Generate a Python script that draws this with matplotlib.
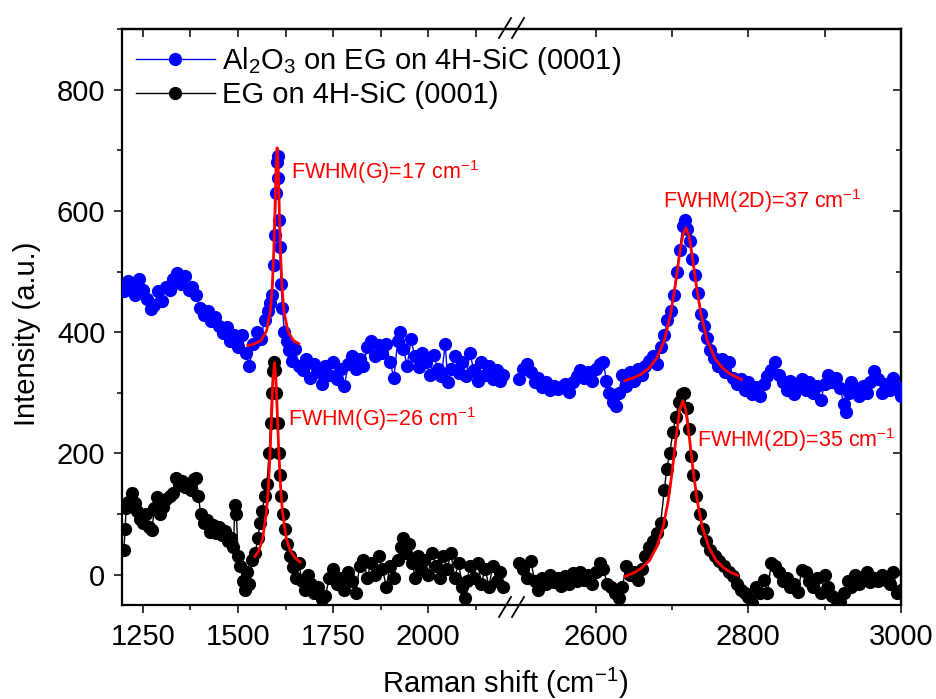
"""
Raman spectra of EG on 4H-SiC with and without Al2O3, broken x axis
"""
import matplotlib
matplotlib.use('Agg')
import matplotlib.pyplot as plt
from matplotlib.ticker import MultipleLocator, FixedLocator
from matplotlib.lines import Line2D

plt.rcParams['font.family'] = ['Liberation Sans', 'DejaVu Sans']
plt.rcParams['mathtext.fontset'] = 'custom'
plt.rcParams['mathtext.rm'] = 'Liberation Sans'
plt.rcParams['mathtext.it'] = 'Liberation Sans:italic'
plt.rcParams['mathtext.default'] = 'regular'

# ---- data: left segment (G band region) ----
wn_blue_l = [1200, 1210, 1220, 1230, 1240, 1250, 1260, 1270, 1280, 1290, 1300, 1310, 1320, 1330,
             1340, 1350, 1360, 1370, 1380, 1390, 1400, 1410, 1420, 1430, 1440, 1450, 1460, 1470,
             1480, 1490, 1500, 1510, 1520, 1530, 1540, 1550, 1560, 1570, 1580, 1585, 1590, 1594,
             1597, 1600, 1602, 1604, 1606, 1608, 1610, 1613, 1617, 1622, 1628, 1635, 1642, 1650,
             1660, 1670, 1680, 1690, 1700, 1710, 1720, 1730, 1740, 1750, 1760, 1770, 1780, 1790,
             1800, 1810, 1820, 1830, 1840, 1850, 1860, 1870, 1880, 1890, 1900, 1910, 1920, 1926,
             1935, 1945, 1955, 1965, 1975, 1985, 1995, 2005, 2015, 2025, 2035, 2045, 2052, 2060,
             2070, 2080, 2090, 2100, 2110, 2120, 2130, 2140, 2150, 2160, 2170, 2180, 2190, 2198]
int_blue_l = [468, 485, 478, 462, 488, 470, 455, 438, 445, 468, 452, 475, 470, 488,
              498, 480, 492, 470, 475, 462, 440, 428, 435, 418, 425, 410, 398, 408,
              385, 395, 375, 395, 365, 345, 380, 400, 388, 420, 435, 448, 462, 510,
              560, 630, 680, 690, 655, 585, 540, 480, 440, 400, 385, 370, 352, 372,
              345, 338, 355, 325, 348, 335, 315, 345, 330, 350, 322, 340, 312, 348,
              360, 340, 355, 345, 375, 385, 360, 378, 365, 380, 350, 325, 385, 400,
              372, 345, 388, 360, 342, 365, 350, 330, 362, 340, 328, 380, 318, 340,
              360, 332, 350, 328, 365, 338, 320, 350, 330, 345, 322, 338, 320, 330]

wn_black_l = [1200, 1203, 1206, 1212, 1220, 1228, 1235, 1242, 1250, 1258, 1266, 1274, 1280, 1288,
              1296, 1304, 1312, 1320, 1328, 1336, 1344, 1352, 1360, 1368, 1376, 1384, 1390, 1396,
              1402, 1410, 1418, 1426, 1434, 1442, 1450, 1458, 1466, 1474, 1482, 1488, 1492, 1496,
              1500, 1506, 1512, 1518, 1524, 1530, 1538, 1545, 1552, 1558, 1564, 1570, 1576, 1582,
              1586, 1589, 1592, 1595, 1598, 1601, 1604, 1607, 1610, 1614, 1618, 1624, 1630, 1638,
              1646, 1652, 1660, 1668, 1676, 1684, 1692, 1700, 1710, 1720, 1730, 1740, 1750, 1760,
              1770, 1780, 1790, 1800, 1810, 1820, 1830, 1840, 1850, 1860, 1870, 1880, 1890, 1900,
              1910, 1920, 1928, 1934, 1942, 1950, 1958, 1966, 1974, 1982, 1990, 2000, 2010, 2020,
              2030, 2040, 2050, 2060, 2070, 2080, 2090, 2096, 2102, 2110, 2120, 2130, 2140, 2150,
              2160, 2170, 2180, 2190, 2197]
int_black_l = [40, 75, 110, 120, 135, 118, 105, 92, 85, 100, 78, 74, 110, 128,
               100, 112, 125, 130, 135, 160, 148, 155, 145, 150, 140, 158, 160, 130,
               100, 85, 90, 70, 82, 68, 78, 65, 72, 55, 60, 45, 115, 100,
               30, 15, -10, -25, 5, -15, 25, 35, 60, 85, 105, 130, 150, 200,
               250, 300, 336, 350, 338, 300, 250, 200, 165, 130, 100, 75, 50, 30,
               12, -5, 20, -10, -25, 0, -15, -30, -20, -40, -35, -5, 10, -15,
               -5, -25, 5, -10, -30, 15, 25, -5, 20, 0, 30, 10, -20, 15,
               -5, 25, 45, 60, 35, 50, 20, -5, 30, 10, 25, 0, 35, 15,
               -5, 30, 10, 35, -5, 20, -20, -38, -10, 15, -5, 20, -15, 10,
               -20, 15, -10, 5, -20]

# ---- data: right segment (2D band region) ----
wn_blue_r = [2500, 2505, 2510, 2515, 2520, 2525, 2530, 2535, 2540, 2545, 2550, 2555, 2560, 2565,
             2570, 2575, 2580, 2585, 2590, 2595, 2600, 2605, 2610, 2614, 2618, 2622, 2626, 2630,
             2635, 2640, 2645, 2650, 2655, 2660, 2665, 2670, 2675, 2680, 2685, 2690, 2694, 2698,
             2702, 2706, 2710, 2714, 2717, 2720, 2723, 2726, 2730, 2734, 2738, 2742, 2746, 2750,
             2755, 2760, 2765, 2770, 2775, 2780, 2785, 2790, 2795, 2800, 2805, 2810, 2815, 2820,
             2825, 2830, 2835, 2840, 2845, 2850, 2855, 2860, 2865, 2870, 2875, 2880, 2885, 2890,
             2895, 2900, 2905, 2910, 2915, 2920, 2925, 2928, 2932, 2935, 2940, 2945, 2950, 2955,
             2960, 2965, 2970, 2975, 2980, 2985, 2990, 2995, 3000]
int_blue_r = [322, 340, 347, 335, 318, 325, 310, 318, 305, 312, 306, 310, 315, 302,
              318, 328, 338, 325, 335, 320, 340, 348, 350, 320, 300, 285, 278, 300,
              330, 312, 335, 320, 340, 330, 345, 352, 360, 348, 375, 395, 420, 435,
              462, 500, 535, 575, 585, 570, 550, 520, 495, 465, 430, 410, 390, 370,
              358, 345, 355, 335, 350, 325, 315, 322, 305, 318, 298, 310, 295, 315,
              328, 338, 350, 330, 318, 305, 320, 298, 310, 322, 305, 318, 300, 312,
              288, 315, 330, 318, 325, 308, 282, 268, 300, 318, 305, 295, 312, 300,
              318, 336, 322, 300, 315, 305, 325, 310, 295]

wn_black_r = [2500, 2505, 2510, 2515, 2520, 2525, 2530, 2535, 2540, 2545, 2550, 2555, 2560, 2565,
              2570, 2575, 2580, 2585, 2590, 2595, 2600, 2605, 2610, 2615, 2620, 2625, 2630, 2635,
              2640, 2645, 2650, 2655, 2660, 2665, 2670, 2675, 2680, 2685, 2690, 2693, 2697, 2701,
              2705, 2709, 2713, 2716, 2719, 2722, 2725, 2728, 2732, 2736, 2740, 2745, 2750, 2756,
              2762, 2768, 2774, 2780, 2785, 2790, 2795, 2800, 2805, 2810, 2815, 2820, 2825, 2830,
              2835, 2840, 2845, 2850, 2855, 2860, 2865, 2870, 2875, 2880, 2885, 2890, 2895, 2900,
              2905, 2910, 2915, 2920, 2925, 2930, 2935, 2940, 2945, 2950, 2955, 2960, 2965, 2970,
              2975, 2980, 2985, 2990, 2995, 3000]
int_black_r = [20, 10, -5, 22, -10, -25, -5, -15, 0, -12, -5, -18, -2, -15,
               2, -10, 5, -8, 0, -15, 5, 20, 10, -15, -20, -30, -38, -20,
               15, 0, 5, -8, 10, 30, 45, 55, 68, 85, 140, 175, 200, 235,
               260, 285, 298, 300, 275, 240, 195, 165, 130, 100, 75, 55, 40, 30,
               22, 15, 5, -2, -15, -25, -30, -36, -47, -20, -30, -8, -30, 20,
               15, 5, -10, -5, -20, -15, -28, 8, 5, -10, -20, -5, -30, 0,
               -20, -35, -40, -45, -30, -10, -20, 0, -15, -5, 5, -12, -5, -10,
               0, -8, -15, 5, -30, -25]

# ---- Lorentzian fit curves ----
fit_g_blue_x = [1526, 1540, 1560, 1575, 1585, 1590, 1594, 1597, 1600, 1603, 1606, 1609, 1612,
                1616, 1621, 1631, 1646, 1660]
fit_g_blue_y = [378, 380, 386, 402, 434, 473, 530, 594, 667, 704, 667, 594, 530,
                473, 434, 402, 386, 381]
fit_g_black_x = [1545, 1555, 1565, 1575, 1580, 1585, 1589, 1592, 1596, 1600, 1603, 1607, 1612,
                 1617, 1627, 1637, 1650, 1663]
fit_g_black_y = [30, 40, 60, 104, 145, 208, 273, 320, 350, 320, 273, 208, 145,
                 104, 60, 40, 28, 21]
fit_2d_blue_x = [2638, 2650, 2660, 2670, 2680, 2690, 2698, 2704, 2710, 2714, 2718, 2722, 2726,
                 2732, 2738, 2746, 2756, 2766, 2776, 2791]
fit_2d_blue_y = [320, 325, 331, 341, 357, 387, 429, 475, 530, 560, 572, 560, 530,
                 475, 429, 387, 357, 341, 331, 322]
fit_2d_black_x = [2638, 2650, 2660, 2670, 2680, 2688, 2695, 2700, 2705, 2710, 2714, 2718, 2723,
                  2728, 2733, 2740, 2748, 2758, 2768, 2778, 2786]
fit_2d_black_y = [-3, 3, 11, 23, 46, 77, 122, 168, 223, 272, 287, 272, 223,
                  168, 122, 77, 46, 23, 11, 3, -1]

labels = ['Al$_2$O$_3$ on EG on 4H-SiC (0001)', 'EG on 4H-SiC (0001)']
fwhm_texts = ['FWHM(G)=17 cm$^{-1}$', 'FWHM(G)=26 cm$^{-1}$',
              'FWHM(2D)=37 cm$^{-1}$', 'FWHM(2D)=35 cm$^{-1}$']

W, H = 937, 699
fig = plt.figure(figsize=(W / 100, H / 100), dpi=100)

x0, x1, xb, y0, y1 = 122, 901, 511, 605, 29
axl = fig.add_axes([x0 / W, 1 - y0 / H, (xb - x0) / W, (y0 - y1) / H])
axr = fig.add_axes([xb / W, 1 - y0 / H, (x1 - xb) / W, (y0 - y1) / H])

mk = dict(marker='o', ms=8.5, lw=1.0, zorder=3)
h_blue, = axl.plot(wn_blue_l, int_blue_l, color='#0000ff', **mk)
h_black, = axl.plot(wn_black_l, int_black_l, color='black', **mk)
axr.plot(wn_blue_r, int_blue_r, color='#0000ff', **mk)
axr.plot(wn_black_r, int_black_r, color='black', **mk)

fit_style = dict(color='#ff0000', lw=2, zorder=4)
axl.plot(fit_g_blue_x, fit_g_blue_y, **fit_style)
axl.plot(fit_g_black_x, fit_g_black_y, **fit_style)
axr.plot(fit_2d_blue_x, fit_2d_blue_y, **fit_style)
axr.plot(fit_2d_black_x, fit_2d_black_y, **fit_style)

# FWHM annotations
txt = dict(color='#ff0000', fontsize=15.5, ha='left', va='baseline', zorder=5)
axl.text(1640, 652, fwhm_texts[0], **txt)
axl.text(1632, 246, fwhm_texts[1], **txt)
axr.text(2688, 604, fwhm_texts[2], **txt)
axr.text(2733, 210, fwhm_texts[3], **txt)

axl.set_xlim(1195, 2218)
axr.set_xlim(2489, 3000)
for ax in (axl, axr):
    ax.set_ylim(-50, 900)
    ax.yaxis.set_major_locator(MultipleLocator(200))
    ax.yaxis.set_minor_locator(MultipleLocator(100))
    for s in ax.spines.values():
        s.set_linewidth(1.6)

axl.xaxis.set_major_locator(FixedLocator([1250, 1500, 1750, 2000]))
axl.xaxis.set_minor_locator(FixedLocator([1375, 1625, 1875, 2125]))
axr.xaxis.set_major_locator(FixedLocator([2600, 2800, 3000]))
axr.xaxis.set_minor_locator(FixedLocator([2700, 2900]))

axl.spines['right'].set_visible(False)
axr.spines['left'].set_visible(False)

tk = dict(labelsize=21, width=1.1)
axl.tick_params(axis='x', which='both', direction='out', top=False, pad=7, **tk)
axr.tick_params(axis='x', which='both', direction='out', top=False, pad=7, **tk)
axl.tick_params(axis='y', which='both', direction='out', right=False, pad=6, **tk)
axr.tick_params(axis='y', which='both', left=False, right=False, labelleft=False)
for ax in (axl, axr):
    ax.tick_params(which='major', length=6)
    ax.tick_params(which='minor', length=3.5)

# mirrored ticks pointing inward on top and right
for ax in (axl, axr):
    sec = ax.secondary_xaxis('top')
    sec.xaxis.set_major_locator(ax.xaxis.get_major_locator())
    sec.xaxis.set_minor_locator(ax.xaxis.get_minor_locator())
    sec.tick_params(which='both', direction='in', labeltop=False, width=1.1)
    sec.tick_params(which='major', length=6)
    sec.tick_params(which='minor', length=6)
    sec.spines['top'].set_linewidth(1.6)
secy = axr.secondary_yaxis('right')
secy.yaxis.set_major_locator(MultipleLocator(200))
secy.yaxis.set_minor_locator(MultipleLocator(100))
secy.tick_params(which='both', direction='in', labelright=False, width=1.1)
secy.tick_params(which='major', length=6)
secy.tick_params(which='minor', length=3.5)
secy.spines['right'].set_linewidth(1.6)

# axis break marks
for ytop, ybot in ((18, 38), (597, 617)):
    for xs in (499, 512):
        fig.add_artist(Line2D([xs / W, (xs + 12) / W], [1 - ybot / H, 1 - ytop / H],
                              color='black', lw=1.3))

fig.text(505 / W, 1 - 683 / H, 'Raman shift (cm$^{-1}$)', ha='center', va='center', fontsize=21)
fig.text(27 / W, 1 - 334 / H, 'Intensity (a.u.)', ha='center', va='center', rotation=90,
         fontsize=21)

leg_blue = Line2D([], [], color='#0000ff', lw=1.0, marker='o', ms=8.5)
leg_black = Line2D([], [], color='black', lw=1.0, marker='o', ms=8.5)
fig.legend([leg_blue, leg_black], labels, loc='upper left', bbox_to_anchor=(136 / W, 1 - 45 / H),
           frameon=False, fontsize=21, borderpad=0, borderaxespad=0, handlelength=2.7,
           handletextpad=0.25, labelspacing=0.15, numpoints=1)

plt.savefig('out.png', dpi=100)
